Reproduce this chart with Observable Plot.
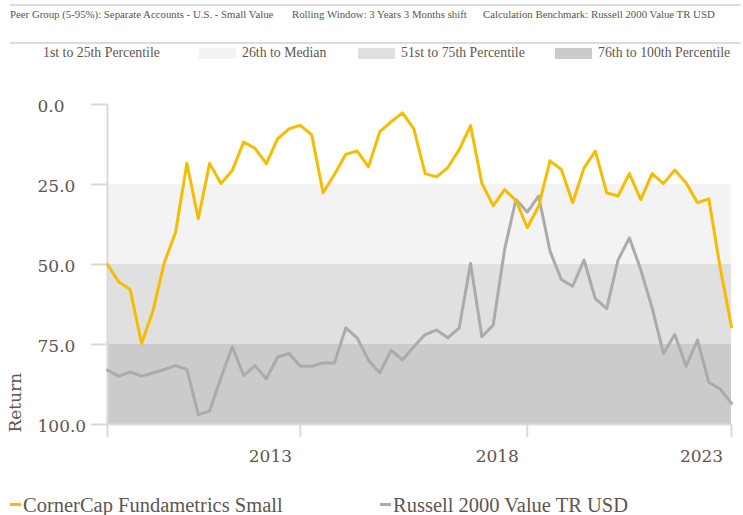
<!DOCTYPE html>
<html><head><meta charset="utf-8">
<script src="https://cdn.jsdelivr.net/npm/d3@7"></script>
<script src="https://cdn.jsdelivr.net/npm/@observablehq/plot@0.6"></script>
<style>
body{margin:0;background:#fff;}
#wrap{position:relative;width:743px;height:515px;overflow:hidden;font-family:"Liberation Serif",serif;color:#5e5650;}
.rule{position:absolute;left:10px;width:731px;height:2px;background:#dcdcdc;}
.hdr{position:absolute;top:8px;font-size:10.8px;color:#555;white-space:nowrap;line-height:12px;}
.leg{position:absolute;top:46px;height:14px;display:flex;align-items:center;font-size:13.8px;white-space:nowrap;}
.sw{width:37px;height:11px;margin-right:6px;}
#chart{position:absolute;left:0;top:72px;}
.bl{position:absolute;top:493px;display:flex;align-items:center;font-size:20.5px;white-space:nowrap;line-height:24px;}
.mk{width:11px;height:3px;margin-right:2px;margin-bottom:2px;}
</style></head>
<body><div id="wrap"></div>
<script>
// ---- data ----
const headerItems = ["Peer Group (5-95%): Separate Accounts - U.S. - Small Value", "Rolling Window: 3 Years 3 Months shift", "Calculation Benchmark: Russell 2000 Value TR USD"];
const bandLabels = ["1st to 25th Percentile", "26th to Median", "51st to 75th Percentile", "76th to 100th Percentile"];
const bandLow = [0, 25, 50, 75];
const bandHigh = [25, 50, 75, 100];
const bandColors = ["#ffffff", "#f3f3f3", "#e0e0e0", "#cbcbcb"];
const seriesNames = ["CornerCap Fundametrics Small", "Russell 2000 Value TR USD"];
const seriesColors = ["#f5bd00", "#ababaf"];
// rolling 3-year windows, quarterly shift (56 periods), percentile rank
const cornerCap = [50.0, 55.5, 57.8, 74.7, 64.6, 49.5, 39.9, 18.4, 35.7, 18.4,
  24.7, 20.6, 11.7, 13.7, 18.5, 10.7, 7.6, 6.5, 9.5, 27.6,
  21.9, 15.6, 14.5, 19.5, 8.5, 5.4, 2.6, 7.6, 21.6, 22.6,
  19.7, 14.1, 6.6, 24.7, 31.6, 26.6, 30.0, 38.5, 31.8, 17.6,
  20.3, 30.7, 19.8, 14.6, 27.6, 28.6, 21.6, 29.7, 21.6, 24.7,
  20.5, 24.5, 30.7, 29.5, 51.0, 69.5];
const russell = [83.0, 84.9, 83.6, 84.9, 83.9, 82.8, 81.6, 82.8, 96.9, 95.8,
  85.4, 75.7, 84.7, 81.6, 85.7, 78.9, 77.8, 81.8, 81.8, 80.8,
  80.8, 69.8, 72.9, 79.9, 83.9, 76.8, 79.8, 75.7, 71.9, 70.5,
  72.9, 69.8, 49.7, 72.6, 68.9, 45.3, 29.7, 33.6, 28.6, 45.8,
  54.7, 56.8, 48.6, 60.7, 63.8, 48.6, 41.7, 51.6, 63.5, 77.8,
  71.9, 81.8, 73.6, 86.8, 88.9, 93.4];
const yTicks = [0, 25, 50, 75, 100];
const xTickIdx = [0, 17, 37, 55];
const xLabelIdx = [17, 37, 55];
const xLabels = ["2013", "2018", "2023"];

// ---- header & legend (HTML) ----
const wrap = document.getElementById("wrap");
function el(tag, cls, css, text){const e=document.createElement(tag);if(cls)e.className=cls;if(css)e.style.cssText=css;if(text!=null)e.textContent=text;wrap.appendChild(e);return e;}
el("div","rule","top:4px;");
const hdrLeft = [10, 292, 483];
headerItems.forEach((t,i)=>el("div","hdr",`left:${hdrLeft[i]}px;`,t));
el("div","rule","top:42px;");
const legLeft = [0, 199, 358, 555];
bandLabels.forEach((t,i)=>{
  const d = el("div","leg",`left:${legLeft[i]}px;`);
  const s = document.createElement("div"); s.className="sw"; s.style.background=bandColors[i]; d.appendChild(s);
  const sp = document.createElement("span"); sp.textContent=t; d.appendChild(sp);
});

// ---- chart ----
const n = cornerCap.length;
const bands = bandLow.map((lo,i)=>({lo, hi: bandHigh[i], color: bandColors[i]})).slice(1);
const labelRows = xLabelIdx.map((i,k)=>({i, label: xLabels[k]}));
const chart = Plot.plot({
  width: 743, height: 400,
  marginLeft: 107, marginRight: 12, marginTop: 32, marginBottom: 48,
  style: {fontFamily: "'DejaVu Serif', serif", fontSize: "17px", color: "#5e5650", background: "transparent", overflow: "visible"},
  x: {domain: [0, n - 1], label: null},
  y: {domain: [0, 100], reverse: true, label: null},
  color: {type: "identity"},
  marks: [
    Plot.rect(bands, {x1: () => 0, x2: () => n - 1, y1: "lo", y2: "hi", fill: "color"}),
    Plot.ruleY([100], {stroke: "#dddddd", strokeWidth: 2}),
    Plot.ruleX([0], {y1: 0, y2: 100, stroke: "#d9d9d9", strokeWidth: 2}),
    Plot.axisY({ticks: yTicks, tickSize: 16, tickFormat: () => "", stroke: "#d9d9d9", strokeWidth: 2, label: null}),
    Plot.axisY({ticks: yTicks, tickSize: 0, tickPadding: 70, textAnchor: "start", tickFormat: d3.format(".1f"), dy: 2, label: null, fill: "#5e5650"}),
    Plot.axisX({ticks: xTickIdx, tickSize: 13, tickFormat: () => "", stroke: "#d9d9d9", strokeWidth: 2, label: null}),
    Plot.text(labelRows, {x: "i", y: () => 100, text: "label", dx: -30, dy: 32, fill: "#5e5650"}),
    Plot.text(["Return"], {frameAnchor: "bottom-left", rotate: -90, textAnchor: "start", dx: -87, dy: 8, fill: "#5e5650"}),
    Plot.line(russell, {x: (d, i) => i, y: d => d, stroke: seriesColors[1], strokeWidth: 3}),
    Plot.line(cornerCap, {x: (d, i) => i, y: d => d, stroke: seriesColors[0], strokeWidth: 3})
  ]
});
chart.id = "chart";
wrap.appendChild(chart);

// ---- bottom legend ----
const blLeft = [10, 380];
seriesNames.forEach((t,i)=>{
  const d = el("div","bl",`left:${blLeft[i]}px;`);
  const m = document.createElement("div"); m.className="mk"; m.style.background=seriesColors[i]; d.appendChild(m);
  const sp = document.createElement("span"); sp.textContent=t; d.appendChild(sp);
});
</script></body></html>
